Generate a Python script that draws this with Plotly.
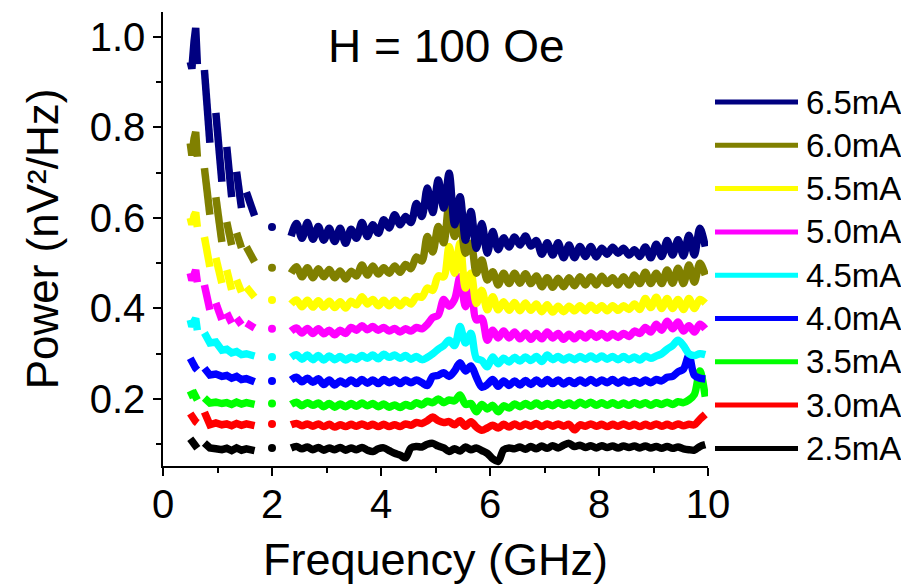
import plotly.graph_objects as go

FONT = "Liberation Sans, Arial, Helvetica, sans-serif"

# ---------------- data ----------------
LABELS = ["6.5mA", "6.0mA", "5.5mA", "5.0mA", "4.5mA", "4.0mA", "3.5mA", "3.0mA", "2.5mA"]
COLORS = ["#000080", "#808000", "#FFFF00", "#FF00FF", "#00FFFF", "#0000FF", "#00FF00", "#FF0000", "#000000"]

# low-frequency part (GHz), measured in short sweeps
FREQ_LO = [0.50, 0.53, 0.57, 0.60, 0.63, 0.76, 0.86, 0.97, 1.08, 1.17, 1.26, 1.35, 1.44, 1.53, 1.68]
# isolated point
FREQ_DOT = 2.0
# main sweep (GHz)
FREQ_HI = [2.35, 2.45, 2.55, 2.65, 2.75, 2.85, 2.95, 3.05, 3.15, 3.25,
           3.35, 3.45, 3.55, 3.65, 3.75, 3.85, 3.95, 4.05, 4.15, 4.25,
           4.35, 4.45, 4.55, 4.65, 4.75, 4.85, 4.95, 5.05, 5.15, 5.25,
           5.35, 5.45, 5.55, 5.65, 5.75, 5.85, 5.95, 6.05, 6.15, 6.25,
           6.35, 6.45, 6.55, 6.65, 6.75, 6.85, 6.95, 7.05, 7.15, 7.25,
           7.35, 7.45, 7.55, 7.65, 7.75, 7.85, 7.95, 8.05, 8.15, 8.25,
           8.35, 8.45, 8.55, 8.65, 8.75, 8.85, 8.95, 9.05, 9.15, 9.25,
           9.35, 9.45, 9.55, 9.65, 9.75, 9.85, 9.95]

P65_LO = [0.945, 0.930, 0.990, 1.020, 0.940, 0.927, 0.766, 0.832, 0.680, 0.757, 0.646, 0.702, 0.622, 0.657, 0.605]
P60_LO = [0.765, 0.738, 0.775, 0.790, 0.735, 0.710, 0.607, 0.646, 0.547, 0.591, 0.540, 0.567, 0.534, 0.536, 0.503]
P55_LO = [0.600, 0.585, 0.605, 0.612, 0.580, 0.558, 0.492, 0.512, 0.456, 0.485, 0.441, 0.463, 0.436, 0.447, 0.425]
P50_LO = [0.478, 0.462, 0.475, 0.485, 0.458, 0.452, 0.397, 0.412, 0.375, 0.390, 0.368, 0.379, 0.364, 0.368, 0.357]
P45_LO = [0.375, 0.360, 0.372, 0.378, 0.352, 0.346, 0.324, 0.326, 0.308, 0.310, 0.302, 0.305, 0.298, 0.300, 0.295]
P40_LO = [0.290, 0.280, 0.275, 0.268, 0.264, 0.268, 0.253, 0.255, 0.250, 0.252, 0.246, 0.250, 0.243, 0.245, 0.238]
P35_LO = [0.218, 0.210, 0.212, 0.205, 0.198, 0.202, 0.191, 0.193, 0.190, 0.192, 0.188, 0.193, 0.189, 0.192, 0.188]
P30_LO = [0.168, 0.160, 0.155, 0.150, 0.147, 0.171, 0.143, 0.147, 0.143, 0.145, 0.141, 0.146, 0.142, 0.145, 0.141]
P25_LO = [0.112, 0.108, 0.100, 0.095, 0.091, 0.103, 0.092, 0.090, 0.088, 0.091, 0.086, 0.092, 0.087, 0.090, 0.086]

DOT = [0.580, 0.490, 0.419, 0.355, 0.293, 0.240, 0.190, 0.145, 0.092]

P65_HI = [0.560, 0.588, 0.555, 0.590, 0.553, 0.581, 0.551, 0.577, 0.548, 0.577,
          0.544, 0.575, 0.555, 0.590, 0.559, 0.585, 0.566, 0.596, 0.578, 0.607,
          0.585, 0.603, 0.590, 0.632, 0.603, 0.666, 0.612, 0.684, 0.622, 0.699,
          0.585, 0.647, 0.551, 0.614, 0.533, 0.588, 0.522, 0.570, 0.530, 0.556,
          0.536, 0.558, 0.540, 0.560, 0.538, 0.550, 0.520, 0.545, 0.518, 0.545,
          0.512, 0.540, 0.512, 0.537, 0.515, 0.537, 0.514, 0.533, 0.520, 0.535,
          0.522, 0.533, 0.518, 0.530, 0.515, 0.536, 0.512, 0.542, 0.515, 0.550,
          0.518, 0.552, 0.516, 0.562, 0.518, 0.577, 0.537]
P60_HI = [0.478, 0.492, 0.470, 0.490, 0.468, 0.488, 0.470, 0.486, 0.468, 0.483,
          0.465, 0.482, 0.472, 0.496, 0.474, 0.494, 0.476, 0.490, 0.478, 0.494,
          0.480, 0.497, 0.488, 0.514, 0.505, 0.559, 0.525, 0.581, 0.545, 0.632,
          0.559, 0.596, 0.522, 0.544, 0.478, 0.507, 0.463, 0.481, 0.452, 0.478,
          0.455, 0.478, 0.456, 0.477, 0.455, 0.472, 0.448, 0.468, 0.447, 0.467,
          0.448, 0.468, 0.450, 0.470, 0.452, 0.470, 0.452, 0.471, 0.455, 0.468,
          0.452, 0.470, 0.452, 0.474, 0.455, 0.480, 0.455, 0.478, 0.455, 0.485,
          0.456, 0.489, 0.455, 0.496, 0.458, 0.500, 0.474]
P55_HI = [0.410, 0.419, 0.404, 0.418, 0.403, 0.417, 0.403, 0.416, 0.402, 0.415,
          0.401, 0.416, 0.408, 0.426, 0.410, 0.420, 0.406, 0.418, 0.406, 0.418,
          0.406, 0.418, 0.410, 0.426, 0.425, 0.445, 0.440, 0.472, 0.470, 0.537,
          0.478, 0.544, 0.445, 0.478, 0.411, 0.440, 0.397, 0.426, 0.397, 0.415,
          0.396, 0.413, 0.395, 0.412, 0.396, 0.410, 0.393, 0.408, 0.392, 0.405,
          0.393, 0.405, 0.395, 0.406, 0.395, 0.407, 0.396, 0.406, 0.395, 0.406,
          0.396, 0.406, 0.398, 0.410, 0.398, 0.422, 0.402, 0.425, 0.400, 0.422,
          0.400, 0.420, 0.398, 0.422, 0.400, 0.420, 0.412]
P50_HI = [0.350, 0.357, 0.346, 0.356, 0.345, 0.355, 0.344, 0.352, 0.342, 0.352,
          0.345, 0.358, 0.352, 0.362, 0.353, 0.360, 0.352, 0.358, 0.350, 0.356,
          0.348, 0.355, 0.350, 0.358, 0.355, 0.365, 0.380, 0.385, 0.420, 0.405,
          0.420, 0.470, 0.404, 0.448, 0.375, 0.378, 0.330, 0.352, 0.335, 0.350,
          0.335, 0.348, 0.333, 0.346, 0.332, 0.345, 0.333, 0.348, 0.335, 0.345,
          0.332, 0.343, 0.333, 0.344, 0.335, 0.346, 0.336, 0.345, 0.335, 0.344,
          0.336, 0.345, 0.338, 0.350, 0.345, 0.358, 0.348, 0.365, 0.352, 0.372,
          0.355, 0.370, 0.350, 0.362, 0.348, 0.365, 0.355]
P45_HI = [0.292, 0.298, 0.288, 0.297, 0.287, 0.296, 0.286, 0.295, 0.287, 0.294,
          0.286, 0.293, 0.288, 0.296, 0.290, 0.297, 0.289, 0.299, 0.292, 0.297,
          0.290, 0.296, 0.288, 0.294, 0.287, 0.292, 0.300, 0.310, 0.318, 0.330,
          0.318, 0.360, 0.324, 0.345, 0.290, 0.285, 0.271, 0.293, 0.278, 0.290,
          0.282, 0.292, 0.284, 0.293, 0.285, 0.294, 0.283, 0.297, 0.287, 0.294,
          0.286, 0.293, 0.287, 0.294, 0.288, 0.295, 0.288, 0.295, 0.288, 0.294,
          0.287, 0.294, 0.287, 0.293, 0.286, 0.295, 0.290, 0.295, 0.300, 0.310,
          0.318, 0.330, 0.318, 0.300, 0.296, 0.300, 0.298]
P40_HI = [0.242, 0.248, 0.238, 0.246, 0.237, 0.245, 0.232, 0.242, 0.231, 0.240,
          0.233, 0.242, 0.234, 0.243, 0.235, 0.242, 0.234, 0.243, 0.236, 0.242,
          0.234, 0.242, 0.236, 0.242, 0.236, 0.230, 0.250, 0.252, 0.258, 0.250,
          0.262, 0.280, 0.262, 0.273, 0.248, 0.226, 0.232, 0.243, 0.228, 0.240,
          0.230, 0.240, 0.231, 0.241, 0.232, 0.242, 0.233, 0.243, 0.234, 0.242,
          0.233, 0.241, 0.234, 0.242, 0.235, 0.243, 0.235, 0.242, 0.236, 0.243,
          0.235, 0.242, 0.236, 0.241, 0.235, 0.242, 0.236, 0.243, 0.240, 0.248,
          0.250, 0.260, 0.266, 0.296, 0.252, 0.246, 0.244]
P35_HI = [0.188, 0.193, 0.185, 0.192, 0.186, 0.191, 0.183, 0.190, 0.182, 0.189,
          0.183, 0.190, 0.184, 0.191, 0.185, 0.190, 0.183, 0.189, 0.182, 0.187,
          0.181, 0.188, 0.184, 0.192, 0.187, 0.195, 0.192, 0.200, 0.192, 0.198,
          0.196, 0.209, 0.188, 0.190, 0.172, 0.188, 0.178, 0.186, 0.172, 0.185,
          0.180, 0.189, 0.183, 0.190, 0.184, 0.191, 0.184, 0.190, 0.185, 0.192,
          0.186, 0.191, 0.185, 0.193, 0.187, 0.193, 0.186, 0.192, 0.186, 0.192,
          0.186, 0.191, 0.186, 0.192, 0.187, 0.192, 0.186, 0.192, 0.188, 0.193,
          0.188, 0.194, 0.192, 0.198, 0.210, 0.262, 0.205]
P30_HI = [0.143, 0.146, 0.141, 0.145, 0.140, 0.145, 0.139, 0.144, 0.138, 0.143,
          0.139, 0.144, 0.140, 0.145, 0.140, 0.144, 0.139, 0.144, 0.139, 0.143,
          0.139, 0.145, 0.142, 0.148, 0.146, 0.152, 0.160, 0.152, 0.148, 0.150,
          0.143, 0.152, 0.140, 0.150, 0.138, 0.131, 0.136, 0.142, 0.136, 0.144,
          0.138, 0.145, 0.139, 0.145, 0.140, 0.146, 0.139, 0.145, 0.140, 0.145,
          0.140, 0.144, 0.132, 0.143, 0.140, 0.145, 0.140, 0.144, 0.139, 0.144,
          0.140, 0.145, 0.140, 0.144, 0.139, 0.144, 0.140, 0.145, 0.140, 0.144,
          0.140, 0.145, 0.141, 0.144, 0.143, 0.155, 0.166]
P25_HI = [0.092, 0.095, 0.090, 0.094, 0.088, 0.093, 0.087, 0.092, 0.088, 0.093,
          0.087, 0.092, 0.088, 0.093, 0.087, 0.084, 0.090, 0.092, 0.086, 0.080,
          0.076, 0.070, 0.092, 0.095, 0.094, 0.100, 0.102, 0.096, 0.092, 0.084,
          0.090, 0.085, 0.094, 0.088, 0.092, 0.086, 0.080, 0.068, 0.062, 0.088,
          0.092, 0.090, 0.094, 0.089, 0.095, 0.090, 0.096, 0.091, 0.097, 0.092,
          0.098, 0.102, 0.095, 0.098, 0.093, 0.097, 0.092, 0.097, 0.093, 0.096,
          0.092, 0.096, 0.093, 0.096, 0.092, 0.096, 0.092, 0.095, 0.091, 0.095,
          0.091, 0.094, 0.090, 0.088, 0.087, 0.095, 0.099]

SERIES_LO = [P65_LO, P60_LO, P55_LO, P50_LO, P45_LO, P40_LO, P35_LO, P30_LO, P25_LO]
SERIES_HI = [P65_HI, P60_HI, P55_HI, P50_HI, P45_HI, P40_HI, P35_HI, P30_HI, P25_HI]

# indices in FREQ_LO after which a sweep piece ends (gap in the trace)
GAPS_UPPER = [4, 6, 8, 10, 12]
GAPS_LOWER = [4]


def with_gaps(xs, ys, ends):
    X, Y = [], []
    for i, (x, y) in enumerate(zip(xs, ys)):
        X.append(x)
        Y.append(y)
        if i in ends:
            X.append(None)
            Y.append(None)
    return X, Y


fig = go.Figure()
LW = 7.5
order = list(range(len(LABELS)))[::-1]
for i in order:
    col = COLORS[i]
    gaps = GAPS_UPPER if i < 4 else GAPS_LOWER
    xl, yl = with_gaps(FREQ_LO, SERIES_LO[i], gaps)
    fig.add_trace(go.Scatter(x=xl, y=yl, mode="lines", connectgaps=False,
                             line=dict(color=col, width=LW), name=LABELS[i],
                             showlegend=False, hoverinfo="skip"))
    fig.add_trace(go.Scatter(x=[FREQ_DOT], y=[DOT[i]], mode="markers",
                             marker=dict(color=col, size=8, line=dict(width=0)),
                             showlegend=False, hoverinfo="skip"))
    fig.add_trace(go.Scatter(x=FREQ_HI, y=SERIES_HI[i], mode="lines",
                             line=dict(color=col, width=LW, shape="spline", smoothing=0.9),
                             name=LABELS[i], showlegend=False))

# ---------------- layout ----------------
# the page adds an 8 px body margin, so the figure is 8 px smaller on each axis
W, H = 901, 579
L, T = 155, 4
pw, ph = 545, 454
R, B = W - L - pw, H - T - ph
OFF = 8  # page offset used to convert reference pixel positions


def px_to_paper_x(px):
    return (px - OFF - L) / pw


def py_to_paper_y(py):
    return (T + ph - (py - OFF)) / ph


fig.update_layout(
    width=W, height=H,
    margin=dict(l=L, r=R, t=T, b=B, pad=0),
    plot_bgcolor="white", paper_bgcolor="white",
    showlegend=False,
    font=dict(family=FONT, color="black"),
)

axis_common = dict(
    showline=True, linecolor="black", linewidth=1.5,
    ticks="outside", ticklen=8, tickwidth=1.5, tickcolor="black",
    showgrid=False, zeroline=False, automargin=False,
    tickfont=dict(family=FONT, size=40, color="black"),
)

fig.update_xaxes(
    range=[0, 10], tick0=0, dtick=2, ticklabelstandoff=-6,
    minor=dict(dtick=1, ticks="outside", ticklen=5, tickwidth=1.5, tickcolor="black", showgrid=False),
    title=dict(text="Frequency (GHz)", font=dict(family=FONT, size=45, color="black"), standoff=19),
    **axis_common,
)
fig.update_yaxes(
    range=[0.052, 1.055], tick0=0, dtick=0.2, tickformat=".1f",
    minor=dict(dtick=0.1, ticks="outside", ticklen=5, tickwidth=1.5, tickcolor="black", showgrid=False),
    title=dict(text="Power (nV²/Hz)", font=dict(family=FONT, size=44, color="black"), standoff=17),
    **axis_common,
)

annotations = [dict(
    text="H = 100 Oe", x=px_to_paper_x(446), y=py_to_paper_y(46), xref="paper", yref="paper",
    showarrow=False, xanchor="center", yanchor="middle",
    font=dict(family=FONT, size=46, color="black"),
)]
shapes = []
for j, lab in enumerate(LABELS):
    py = 102 + 43.3 * j
    yp = py_to_paper_y(py)
    shapes.append(dict(type="line", xref="paper", yref="paper",
                       x0=px_to_paper_x(715), x1=px_to_paper_x(798), y0=yp, y1=yp,
                       line=dict(color=COLORS[j], width=5)))
    annotations.append(dict(text=lab, x=px_to_paper_x(804), y=yp, xref="paper", yref="paper",
                            showarrow=False, xanchor="left", yanchor="middle",
                            font=dict(family=FONT, size=33, color="black")))

fig.update_layout(annotations=annotations, shapes=shapes)

fig.write_html("out.html")
